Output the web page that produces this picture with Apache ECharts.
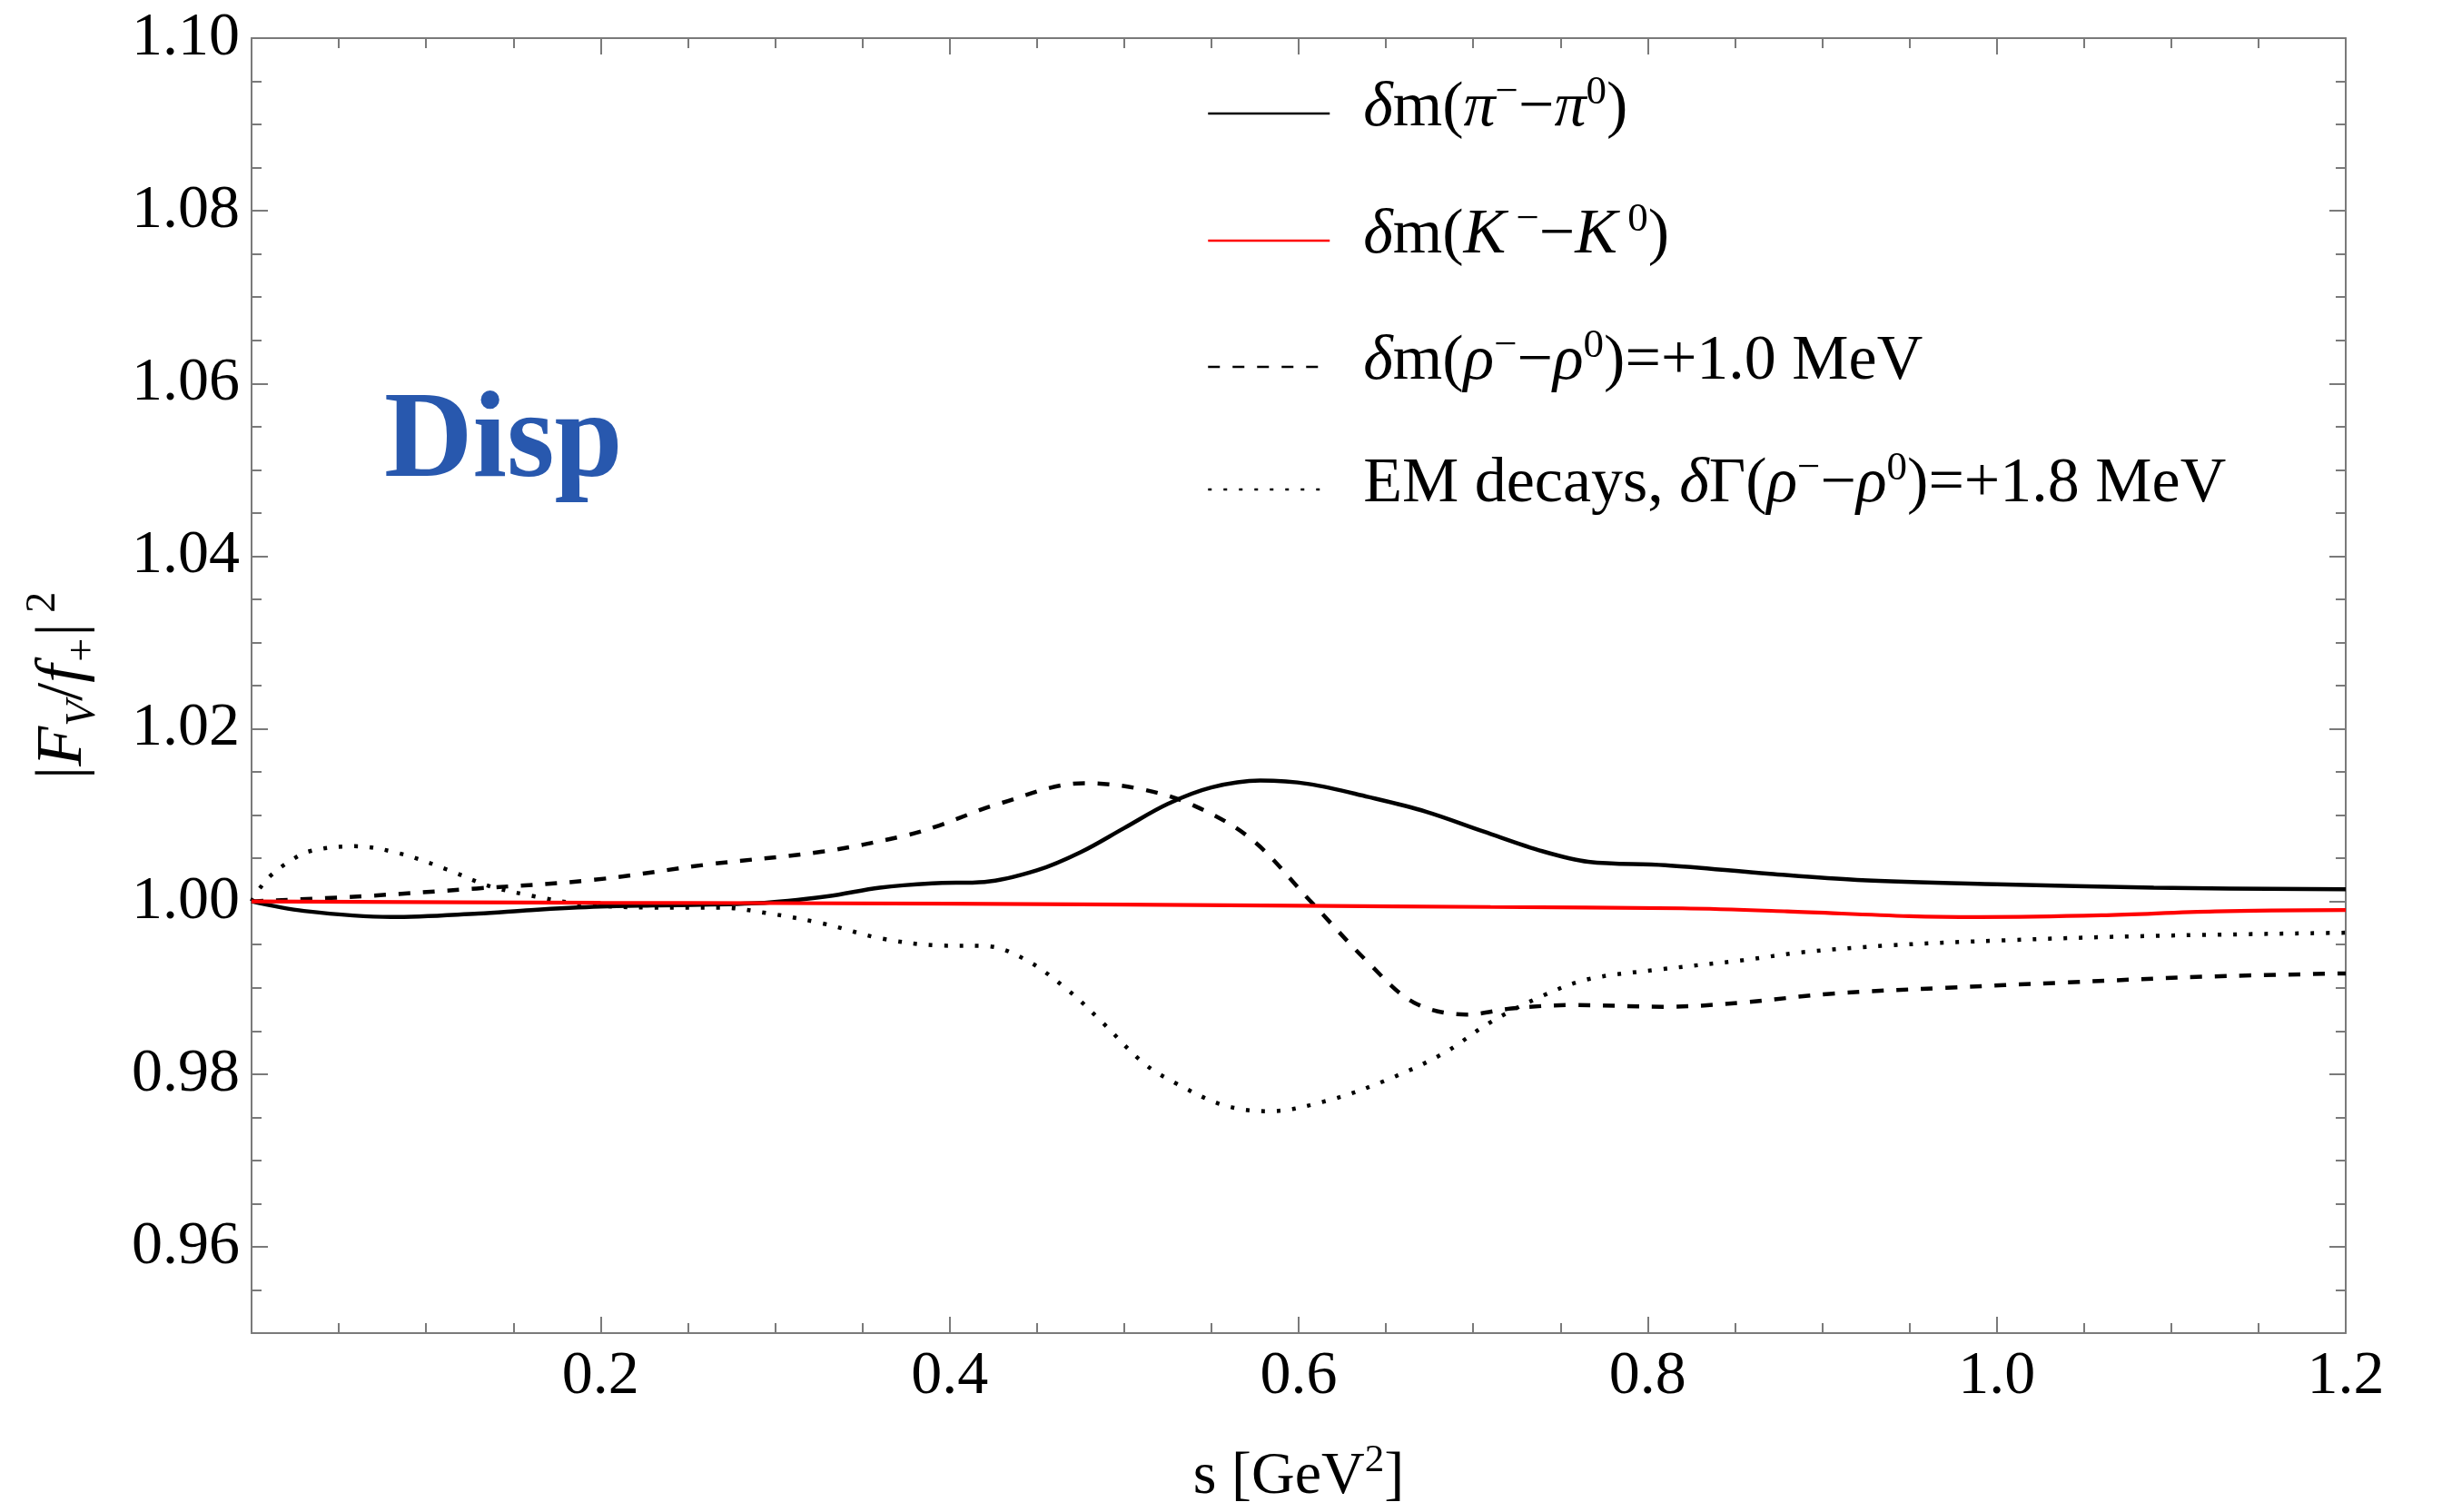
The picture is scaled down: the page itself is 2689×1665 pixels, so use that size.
<!DOCTYPE html>
<html>
<head>
<meta charset="utf-8">
<script src="https://cdn.jsdelivr.net/npm/echarts@6/dist/echarts.min.js"></script>
<style>
html,body{margin:0;padding:0;background:#fff;}
#c{width:2689px;height:1665px;}
</style>
</head>
<body>
<div id="c"></div>
<script>
// ---------- data ----------
const xTickLabels = [0.2, 0.4, 0.6, 0.8, 1.0, 1.2];
const yTickLabels = [0.96, 0.98, 1.00, 1.02, 1.04, 1.06, 1.08, 1.10];
const yMinorTicks = [0.955, 0.965, 0.97, 0.975, 0.985, 0.99, 0.995, 1.005, 1.01, 1.015,
  1.025, 1.03, 1.035, 1.045, 1.05, 1.055, 1.065, 1.07, 1.075, 1.085, 1.09, 1.095];

// delta m(pi- - pi0)  (solid black)
const sPi = [0, 0.03, 0.08, 0.13, 0.16, 0.2, 0.23, 0.29, 0.33, 0.36, 0.39, 0.42, 0.45, 0.475, 0.5,
  0.525, 0.55, 0.578, 0.606, 0.64, 0.673, 0.706, 0.74, 0.766, 0.81, 0.87, 0.92, 1.0, 1.09, 1.2];
const vPi = [1.0, 0.9989, 0.9982, 0.9986, 0.9990, 0.9994, 0.99955, 0.9998, 1.0006, 1.0016, 1.0021,
  1.00226, 1.0036, 1.0057, 1.0085, 1.0113, 1.0132, 1.0140, 1.0136, 1.0121, 1.0104, 1.0081,
  1.0058, 1.0046, 1.0042, 1.0032, 1.0025, 1.0020, 1.0016, 1.0014];

// delta m(K- - K0)  (red)
const sK = [0, 0.2, 0.4, 0.6, 0.71, 0.82, 0.88, 0.95, 0.99, 1.06, 1.125, 1.2];
const vK = [1.0, 0.99985, 0.99975, 0.9995, 0.99936, 0.9992, 0.99885, 0.9983, 0.9982, 0.9984, 0.99885, 0.9990];

// delta m(rho- - rho0) = +1.0 MeV  (dashed)
const sRho = [0, 0.063, 0.129, 0.196, 0.262, 0.328, 0.374, 0.394, 0.428, 0.477, 0.51, 0.54, 0.573,
  0.606, 0.64, 0.666, 0.696, 0.722, 0.756, 0.81, 0.855, 0.904, 0.971, 1.038, 1.121, 1.2];
const vRho = [1.0, 1.0006, 1.0015, 1.0025, 1.0043, 1.0058, 1.0076, 1.0088, 1.0113, 1.0137, 1.0130,
  1.0111, 1.0072, 1.0002, 0.9929, 0.9883, 0.9869, 0.9876, 0.9880, 0.9878, 0.9883, 0.9893,
  0.9900, 0.9906, 0.9913, 0.99166];

// EM decays, delta Gamma(rho- - rho0) = +1.8 MeV  (dotted)
const sEM = [0, 0.005, 0.011, 0.02, 0.033, 0.059, 0.086, 0.112, 0.136, 0.162, 0.189, 0.229, 0.269,
  0.295, 0.328, 0.361, 0.394, 0.421, 0.444, 0.468, 0.488, 0.511, 0.53, 0.557, 0.583, 0.616, 0.649,
  0.683, 0.709, 0.739, 0.766, 0.806, 0.855, 0.888, 0.938, 1.004, 1.087, 1.2];
const vEM = [1.0, 1.0016, 1.0030, 1.0044, 1.0058, 1.0064, 1.0055, 1.0037, 1.0018, 1.0006, 0.9997,
  0.99929, 0.99929, 0.99866, 0.99742, 0.9957, 0.9949, 0.99483, 0.9932, 0.9897, 0.9859, 0.9813,
  0.9789, 0.9764, 0.9757, 0.9769, 0.9792, 0.9824, 0.9859, 0.9890, 0.9910, 0.9921, 0.9932,
  0.9941, 0.9949, 0.9955, 0.9960, 0.99638];

const seriesNames = ['pi', 'K', 'rho', 'EM'];
const legendLabels = [
  '{i|δ}{n|m(}{i|π}{sup|−}{n|−}{i|π}{sup|0}{n|)}',
  '{i|δ}{n|m(}{i|K}{sup| −}{n|−}{i|K}{sup| 0}{n|)}',
  '{i|δ}{n|m(}{i|ρ}{sup|−}{n|−}{i|ρ}{sup|0}{n|)=+1.0 MeV}',
  '{n|EM decays, }{i|δ}{n|Γ(}{i|ρ}{sup|−}{n|−}{i|ρ}{sup|0}{n|)=+1.8 MeV}'
];
const legendTops = [80, 220, 359, 494];

// ---------- chart ----------
const FONT = 'Liberation Serif';
const AX = '#7a7a7a';
const zip = (a, b) => a.map((x, i) => [x, b[i]]);

const richLegend = {
  n: {fontFamily: FONT, fontSize: 70, lineHeight: 80, color: '#000'},
  i: {fontFamily: FONT, fontSize: 70, lineHeight: 80, fontStyle: 'italic', color: '#000'},
  sup: {fontFamily: FONT, fontSize: 45, lineHeight: 40, verticalAlign: 'top', color: '#000'}
};

const chart = echarts.init(document.getElementById('c'), null, {renderer: 'canvas'});

const yAxisBase = {
  type: 'value', min: 0.95, max: 1.10, gridIndex: 0,
  splitLine: {show: false}
};
const xAxisBase = {
  type: 'value', min: 0, max: 1.2, interval: 0.2, gridIndex: 0,
  splitLine: {show: false}, minorSplitLine: {show: false}
};

chart.setOption({
  animation: false,
  backgroundColor: '#fff',
  title: {
    text: 'Disp', left: 423, top: 422, padding: 0,
    textStyle: {fontFamily: FONT, fontWeight: 'bold', fontSize: 135, color: '#2858ae'}
  },
  grid: {left: 277, right: 106, top: 42, bottom: 197, containLabel: false},
  xAxis: [
    Object.assign({}, xAxisBase, {
      position: 'bottom',
      name: '{n|s [GeV}{sup|2}{n|]}',
      nameLocation: 'middle', nameGap: 119,
      nameTextStyle: {
        rich: {
          n: {fontFamily: FONT, fontSize: 66, lineHeight: 80, color: '#000'},
          sup: {fontFamily: FONT, fontSize: 43, lineHeight: 40, verticalAlign: 'top', color: '#000'}
        }
      },
      axisLine: {show: true, lineStyle: {color: AX, width: 2}},
      axisTick: {show: true, inside: true, length: 18, lineStyle: {color: AX, width: 2}},
      minorTick: {show: true, splitNumber: 4, length: 11, lineStyle: {color: AX, width: 2}},
      axisLabel: {
        show: true, margin: 14, color: '#000', fontFamily: FONT, fontSize: 68,
        customValues: xTickLabels,
        formatter: v => v.toFixed(1)
      }
    }),
    Object.assign({}, xAxisBase, {
      position: 'top',
      axisLine: {show: true, lineStyle: {color: AX, width: 2}},
      axisTick: {show: true, inside: true, length: 18, lineStyle: {color: AX, width: 2}},
      minorTick: {show: true, splitNumber: 4, length: 11, lineStyle: {color: AX, width: 2}},
      axisLabel: {show: false}
    })
  ],
  yAxis: [
    Object.assign({}, yAxisBase, {
      position: 'left',
      name: '{n||}{i|F}{sub|V}{n|/}{i|f}{sub|+}{n||}{sup| 2}',
      nameLocation: 'middle', nameRotate: 90, nameGap: 162,
      nameTextStyle: {
        rich: {
          n: {fontFamily: FONT, fontSize: 72, lineHeight: 90, color: '#000'},
          i: {fontFamily: FONT, fontSize: 72, lineHeight: 90, fontStyle: 'italic', color: '#000'},
          sub: {fontFamily: FONT, fontSize: 46, lineHeight: 40, verticalAlign: 'bottom', fontStyle: 'italic', color: '#000'},
          sup: {fontFamily: FONT, fontSize: 46, lineHeight: 40, verticalAlign: 'top', color: '#000'}
        }
      },
      axisLine: {show: true, lineStyle: {color: AX, width: 2}},
      axisTick: {show: true, inside: true, length: 18, customValues: yTickLabels, lineStyle: {color: AX, width: 2}},
      axisLabel: {
        show: true, margin: 13, color: '#000', fontFamily: FONT, fontSize: 68,
        customValues: yTickLabels,
        formatter: v => v.toFixed(2)
      }
    }),
    Object.assign({}, yAxisBase, {
      position: 'left',
      axisLine: {show: false},
      axisTick: {show: true, inside: true, length: 11, customValues: yMinorTicks, lineStyle: {color: AX, width: 2}},
      axisLabel: {show: false}
    }),
    Object.assign({}, yAxisBase, {
      position: 'right',
      axisLine: {show: true, lineStyle: {color: AX, width: 2}},
      axisTick: {show: true, inside: true, length: 18, customValues: yTickLabels, lineStyle: {color: AX, width: 2}},
      axisLabel: {show: false}
    }),
    Object.assign({}, yAxisBase, {
      position: 'right',
      axisLine: {show: false},
      axisTick: {show: true, inside: true, length: 11, customValues: yMinorTicks, lineStyle: {color: AX, width: 2}},
      axisLabel: {show: false}
    })
  ],
  legend: seriesNames.map((nm, i) => ({
    data: [nm], orient: 'vertical', left: 1329, top: legendTops[i],
    padding: 0, itemGap: 0, itemWidth: 134, itemHeight: 20,
    selectedMode: false,
    lineStyle: {width: 2.5},
    itemStyle: {opacity: 0, borderWidth: 0},
    formatter: () => legendLabels[i],
    textStyle: {padding: [0, 0, 10, 32], rich: richLegend}
  })),
  series: [
    {
      name: 'pi', type: 'line', data: zip(sPi, vPi), xAxisIndex: 0, yAxisIndex: 0,
      symbol: 'none', smooth: 0.35, z: 3,
      lineStyle: {color: '#000', width: 4.5, type: 'solid'}, itemStyle: {color: '#000'}
    },
    {
      name: 'K', type: 'line', data: zip(sK, vK), xAxisIndex: 0, yAxisIndex: 0,
      symbol: 'none', smooth: 0.35, z: 5,
      lineStyle: {color: '#ff0000', width: 4.2, type: 'solid'}, itemStyle: {color: '#ff0000'}
    },
    {
      name: 'rho', type: 'line', data: zip(sRho, vRho), xAxisIndex: 0, yAxisIndex: 0,
      symbol: 'none', smooth: 0.35, z: 4,
      lineStyle: {color: '#000', width: 4.5, type: [13, 14], cap: 'butt'}, itemStyle: {color: '#000'}
    },
    {
      name: 'EM', type: 'line', data: zip(sEM, vEM), xAxisIndex: 0, yAxisIndex: 0,
      symbol: 'none', smooth: 0.35, z: 4,
      lineStyle: {color: '#000', width: 4.5, type: [4, 13], cap: 'butt'}, itemStyle: {color: '#000'}
    }
  ]
});
</script>
</body>
</html>
